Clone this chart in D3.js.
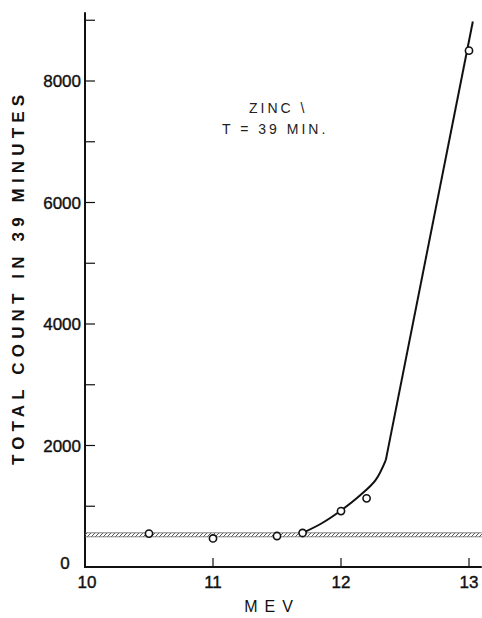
<!DOCTYPE html>
<html>
<head>
<meta charset="utf-8">
<script src="https://cdn.jsdelivr.net/npm/d3@7"></script>
<style>
  html, body { margin: 0; padding: 0; background: #fff; }
  svg { display: block; }
  .tick-lbl { font-family: "Liberation Sans", Arial, sans-serif; font-size: 17px; fill: #111; stroke: #111; stroke-width: 0.4; }
  .ax-title { font-family: "Liberation Sans", Arial, sans-serif; font-size: 16px; fill: #111; }
  .y-title { font-family: "Liberation Sans", Arial, sans-serif; font-weight: bold; font-size: 17px; fill: #111; }
  .note { font-family: "Liberation Sans", Arial, sans-serif; font-size: 14px; fill: #222; letter-spacing: 3px; }
</style>
</head>
<body>
<svg id="chart" width="482" height="618"></svg>
<script>
// energia (MeV) x contagem total em 39 min, alvo de zinco
const energias = [10.5, 11.0, 11.5, 11.7, 12.0, 12.2, 13.0];
const contagens = [550, 470, 510, 560, 920, 1130, 8500];

// curva desenhada a mão: parte suave + reta final
const curvaSuave = [[11.7, 560], [11.85, 720], [12.0, 930], [12.15, 1180], [12.27, 1430], [12.35, 1760]];
const curvaReta = [[12.35, 1760], [13.03, 8980]];

const fundo = 530; // nível de fundo (faixa hachurada)

const xTicks = [10, 11, 12, 13];
const yTicksMaior = [2000, 4000, 6000, 8000];
const yTicksMenor = [1000, 3000, 5000, 7000, 9000];

const svg = d3.select('#chart');

const x = d3.scaleLinear().domain([10, 13]).range([85, 469]);
const y = d3.scaleLinear().domain([0, 8000]).range([567, 81]);

// ---------------------------------------------------------------- eixos
svg.append('line')
  .attr('x1', x(10)).attr('x2', x(10))
  .attr('y1', y(0) + 1).attr('y2', y(9130))
  .attr('stroke', '#111').attr('stroke-width', 2);
svg.append('line')
  .attr('x1', x(10) - 1).attr('x2', x(13.1))
  .attr('y1', y(0)).attr('y2', y(0))
  .attr('stroke', '#111').attr('stroke-width', 2);

// ticks do y apontam para dentro
svg.selectAll('.ytick')
  .data([...yTicksMaior, ...yTicksMenor])
  .join('line')
  .attr('x1', x(10)).attr('x2', x(10) + 10)
  .attr('y1', (d) => y(d)).attr('y2', (d) => y(d))
  .attr('stroke', '#111').attr('stroke-width', 1.2);

svg.selectAll('.ylbl')
  .data(yTicksMaior)
  .join('text')
  .attr('class', 'tick-lbl')
  .attr('x', x(10) - 4).attr('y', (d) => y(d) + 6)
  .attr('text-anchor', 'end')
  .text((d) => d);

// o "0" fica deslocado para a esquerda no original
svg.append('text').attr('class', 'tick-lbl')
  .attr('x', 65).attr('y', y(0) + 2)
  .attr('text-anchor', 'middle').text('0');

svg.selectAll('.xtick')
  .data(xTicks.slice(1))
  .join('line')
  .attr('x1', (d) => x(d)).attr('x2', (d) => x(d))
  .attr('y1', y(0)).attr('y2', y(0) - 9)
  .attr('stroke', '#111').attr('stroke-width', 1.2);

svg.selectAll('.xlbl')
  .data(xTicks)
  .join('text')
  .attr('class', 'tick-lbl')
  .attr('x', (d) => x(d) + (d === 10 ? 2 : 0)).attr('y', y(0) + 21)
  .attr('text-anchor', 'middle')
  .text((d) => d);

svg.append('text').attr('class', 'ax-title')
  .attr('x', 272).attr('y', 612)
  .attr('text-anchor', 'middle')
  .attr('letter-spacing', '7px')
  .text('MEV');

svg.append('text').attr('class', 'y-title')
  .attr('transform', 'translate(24,280) rotate(-90)')
  .attr('text-anchor', 'middle')
  .attr('textLength', 370).attr('lengthAdjust', 'spacing')
  .text('TOTAL  COUNT  IN  39  MINUTES');

// ---------------------------------------------------------------- faixa de fundo
const defs = svg.append('defs');
const pat = defs.append('pattern')
  .attr('id', 'hatch').attr('patternUnits', 'userSpaceOnUse')
  .attr('width', 4).attr('height', 4);
pat.append('path').attr('d', 'M0,4 L4,0').attr('stroke', '#555').attr('stroke-width', 1);

svg.append('rect')
  .attr('x', x(10)).attr('width', x(13.1) - x(10))
  .attr('y', y(fundo) - 2).attr('height', 4)
  .attr('fill', 'url(#hatch)');
[-2, 2].forEach((dy) => {
  svg.append('line')
    .attr('x1', x(10)).attr('x2', x(13.1))
    .attr('y1', y(fundo) + dy).attr('y2', y(fundo) + dy)
    .attr('stroke', '#666').attr('stroke-width', 0.8);
});

// ---------------------------------------------------------------- curva
const linha = d3.line().x((d) => x(d[0])).y((d) => y(d[1]));
svg.append('path')
  .attr('d', linha.curve(d3.curveCatmullRom)(curvaSuave))
  .attr('fill', 'none').attr('stroke', '#111').attr('stroke-width', 2);
svg.append('path')
  .attr('d', d3.line().x((d) => x(d[0])).y((d) => y(d[1]))(curvaReta))
  .attr('fill', 'none').attr('stroke', '#111').attr('stroke-width', 2);

// ---------------------------------------------------------------- pontos
svg.selectAll('.pt')
  .data(energias.map((e, i) => [e, contagens[i]]))
  .join('circle')
  .attr('cx', (d) => x(d[0])).attr('cy', (d) => y(d[1]))
  .attr('r', 3.6)
  .attr('fill', '#fff').attr('stroke', '#111').attr('stroke-width', 1.6);

// ---------------------------------------------------------------- anotação
svg.append('text').attr('class', 'note')
  .attr('x', 249).attr('y', 113).text('ZINC \\');
svg.append('text').attr('class', 'note')
  .attr('x', 222).attr('y', 134).text('T = 39 MIN.');
</script>
</body>
</html>
